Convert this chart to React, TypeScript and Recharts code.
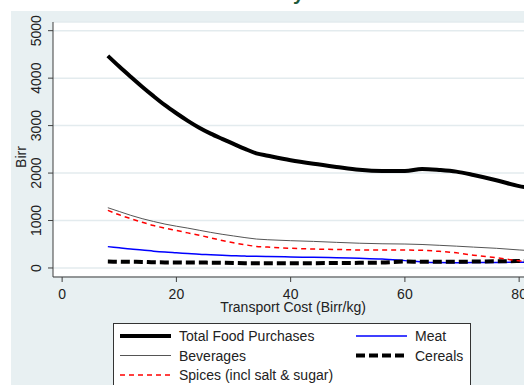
import React from "react";
import { LineChart, Line, XAxis, YAxis, CartesianGrid } from "recharts";

const xs = [8, 10, 12, 14, 16, 18, 20, 22, 24, 26, 28, 30, 32, 34, 36, 40, 44, 48, 52, 56, 60, 63, 66, 69, 72, 76, 80, 82];
const totalFood = [4470, 4245, 4030, 3820, 3620, 3430, 3260, 3100, 2955, 2830, 2720, 2615, 2510, 2415, 2365, 2270, 2195, 2130, 2070, 2045, 2045, 2085, 2065, 2030, 1960, 1850, 1725, 1680];
const beverages = [1270, 1190, 1110, 1040, 980, 925, 880, 840, 795, 750, 710, 675, 640, 610, 595, 575, 560, 540, 522, 510, 505, 495, 478, 460, 440, 415, 380, 365];
const spices = [1215, 1120, 1040, 965, 895, 840, 790, 740, 690, 635, 580, 530, 490, 455, 440, 415, 400, 390, 380, 378, 378, 372, 350, 320, 270, 215, 150, 125];
const meat = [450, 425, 400, 380, 355, 335, 320, 305, 290, 280, 268, 258, 250, 248, 242, 232, 225, 215, 205, 190, 155, 128, 115, 112, 115, 117, 120, 120];
const cereals = [135, 132, 130, 128, 120, 118, 118, 115, 115, 112, 110, 105, 100, 100, 100, 100, 102, 105, 108, 115, 135, 130, 130, 132, 135, 140, 145, 145];

const xTicks = [0, 20, 40, 60, 80];
const yTicks = [0, 1000, 2000, 3000, 4000, 5000];

const data = xs.map((x, i) => ({
  x,
  total: totalFood[i],
  beverages: beverages[i],
  spices: spices[i],
  meat: meat[i],
  cereals: cereals[i],
}));

const FONT = "'Liberation Sans', Arial, Helvetica, sans-serif";
const FS = 14;
const TXT = "#222";
const AXIS = "#3f3f3f";
const BG = "#e8f0f2";
const GRID = "#e3ebee";

const YTick = (props: any) => {
  const { y, payload } = props;
  return (
    <text x={41} y={y} transform={`rotate(-90, 41, ${y})`} textAnchor="middle" fontSize={FS} fill={TXT} fontFamily={FONT}>
      {payload.value}
    </text>
  );
};

const XTick = (props: any) => {
  const { x, payload } = props;
  return (
    <text x={x} y={299} textAnchor="middle" fontSize={FS} fill={TXT} fontFamily={FONT}>
      {payload.value}
    </text>
  );
};

const legendItems = [
  { label: "Total Food Purchases", color: "#000", width: 4, dash: undefined as string | undefined, col: 0, row: 0 },
  { label: "Meat", color: "#0000ff", width: 1.5, dash: undefined, col: 1, row: 0 },
  { label: "Beverages", color: "#555", width: 1, dash: undefined, col: 0, row: 1 },
  { label: "Cereals", color: "#000", width: 4, dash: "9 4", col: 1, row: 1 },
  { label: "Spices (incl salt & sugar)", color: "#ff0000", width: 1.5, dash: "5 4", col: 0, row: 2 },
];

export default function App() {
  return (
    <div style={{ position: "absolute", left: 0, top: 0, width: 524, height: 385, overflow: "hidden", background: "#fff", fontFamily: FONT }}>
      <div style={{ position: "absolute", left: 11, top: 11, width: 600, height: 400, background: BG }} />
      <svg style={{ position: "absolute", left: 0, top: 0 }} width={524} height={12}>
        <text x={293} y={-0.5} fontSize={20} fontWeight="bold" fill="#1d5a3b" fontFamily={FONT}>y</text>
      </svg>
      <div style={{ position: "absolute", left: 0, top: 0 }}>
        <LineChart width={560} height={385} data={data} margin={{ top: 22, right: 0, left: 0, bottom: 0 }}>
          <CartesianGrid horizontal={true} vertical={false} fill="#ffffff" stroke={GRID} strokeWidth={1.5} />
          <XAxis
            type="number"
            dataKey="x"
            domain={[-1.6, 87.15]}
            ticks={xTicks}
            allowDataOverflow
            height={108}
            stroke={AXIS}
            tickSize={5}
            tick={<XTick />}
            tickLine={{ stroke: AXIS }}
            axisLine={{ stroke: AXIS }}
          />
          <YAxis
            type="number"
            domain={[-190, 5183]}
            ticks={yTicks}
            allowDataOverflow
            width={53}
            stroke={AXIS}
            tickSize={5}
            tick={<YTick />}
            tickLine={{ stroke: AXIS }}
            axisLine={{ stroke: AXIS }}
          />
          <Line type="monotone" dataKey="total" stroke="#000" strokeWidth={4} dot={false} isAnimationActive={false} strokeLinejoin="round" />
          <Line type="monotone" dataKey="meat" stroke="#0000ff" strokeWidth={1.5} dot={false} isAnimationActive={false} />
          <Line type="monotone" dataKey="beverages" stroke="#555" strokeWidth={1} dot={false} isAnimationActive={false} />
          <Line type="monotone" dataKey="cereals" stroke="#000" strokeWidth={4} strokeDasharray="9 4" dot={false} isAnimationActive={false} />
          <Line type="monotone" dataKey="spices" stroke="#ff0000" strokeWidth={1.5} strokeDasharray="5 4" dot={false} isAnimationActive={false} />
        </LineChart>
      </div>
      <svg style={{ position: "absolute", left: 0, top: 0, pointerEvents: "none" }} width={524} height={385}>
        <text x={26} y={157} transform="rotate(-90, 26, 157)" textAnchor="middle" fontSize={FS} fill={TXT} fontFamily={FONT}>Birr</text>
        <text x={293} y={312} textAnchor="middle" fontSize={FS} fill={TXT} fontFamily={FONT}>Transport Cost (Birr/kg)</text>
        <rect x={113.5} y={323.5} width={357} height={80} fill="#fff" stroke="#333" strokeWidth={1} />
        {legendItems.map((it) => {
          const lx = it.col === 0 ? 120 : 356;
          const tx = it.col === 0 ? 179 : 415;
          const ly = [336, 355.5, 375][it.row];
          const by = [341, 361, 380][it.row];
          return (
            <g key={it.label}>
              <line x1={lx} x2={lx + 51} y1={ly} y2={ly} stroke={it.color} strokeWidth={it.width} strokeDasharray={it.dash} />
              <text x={tx} y={by} fontSize={FS} fill={TXT} fontFamily={FONT}>{it.label}</text>
            </g>
          );
        })}
      </svg>
    </div>
  );
}
